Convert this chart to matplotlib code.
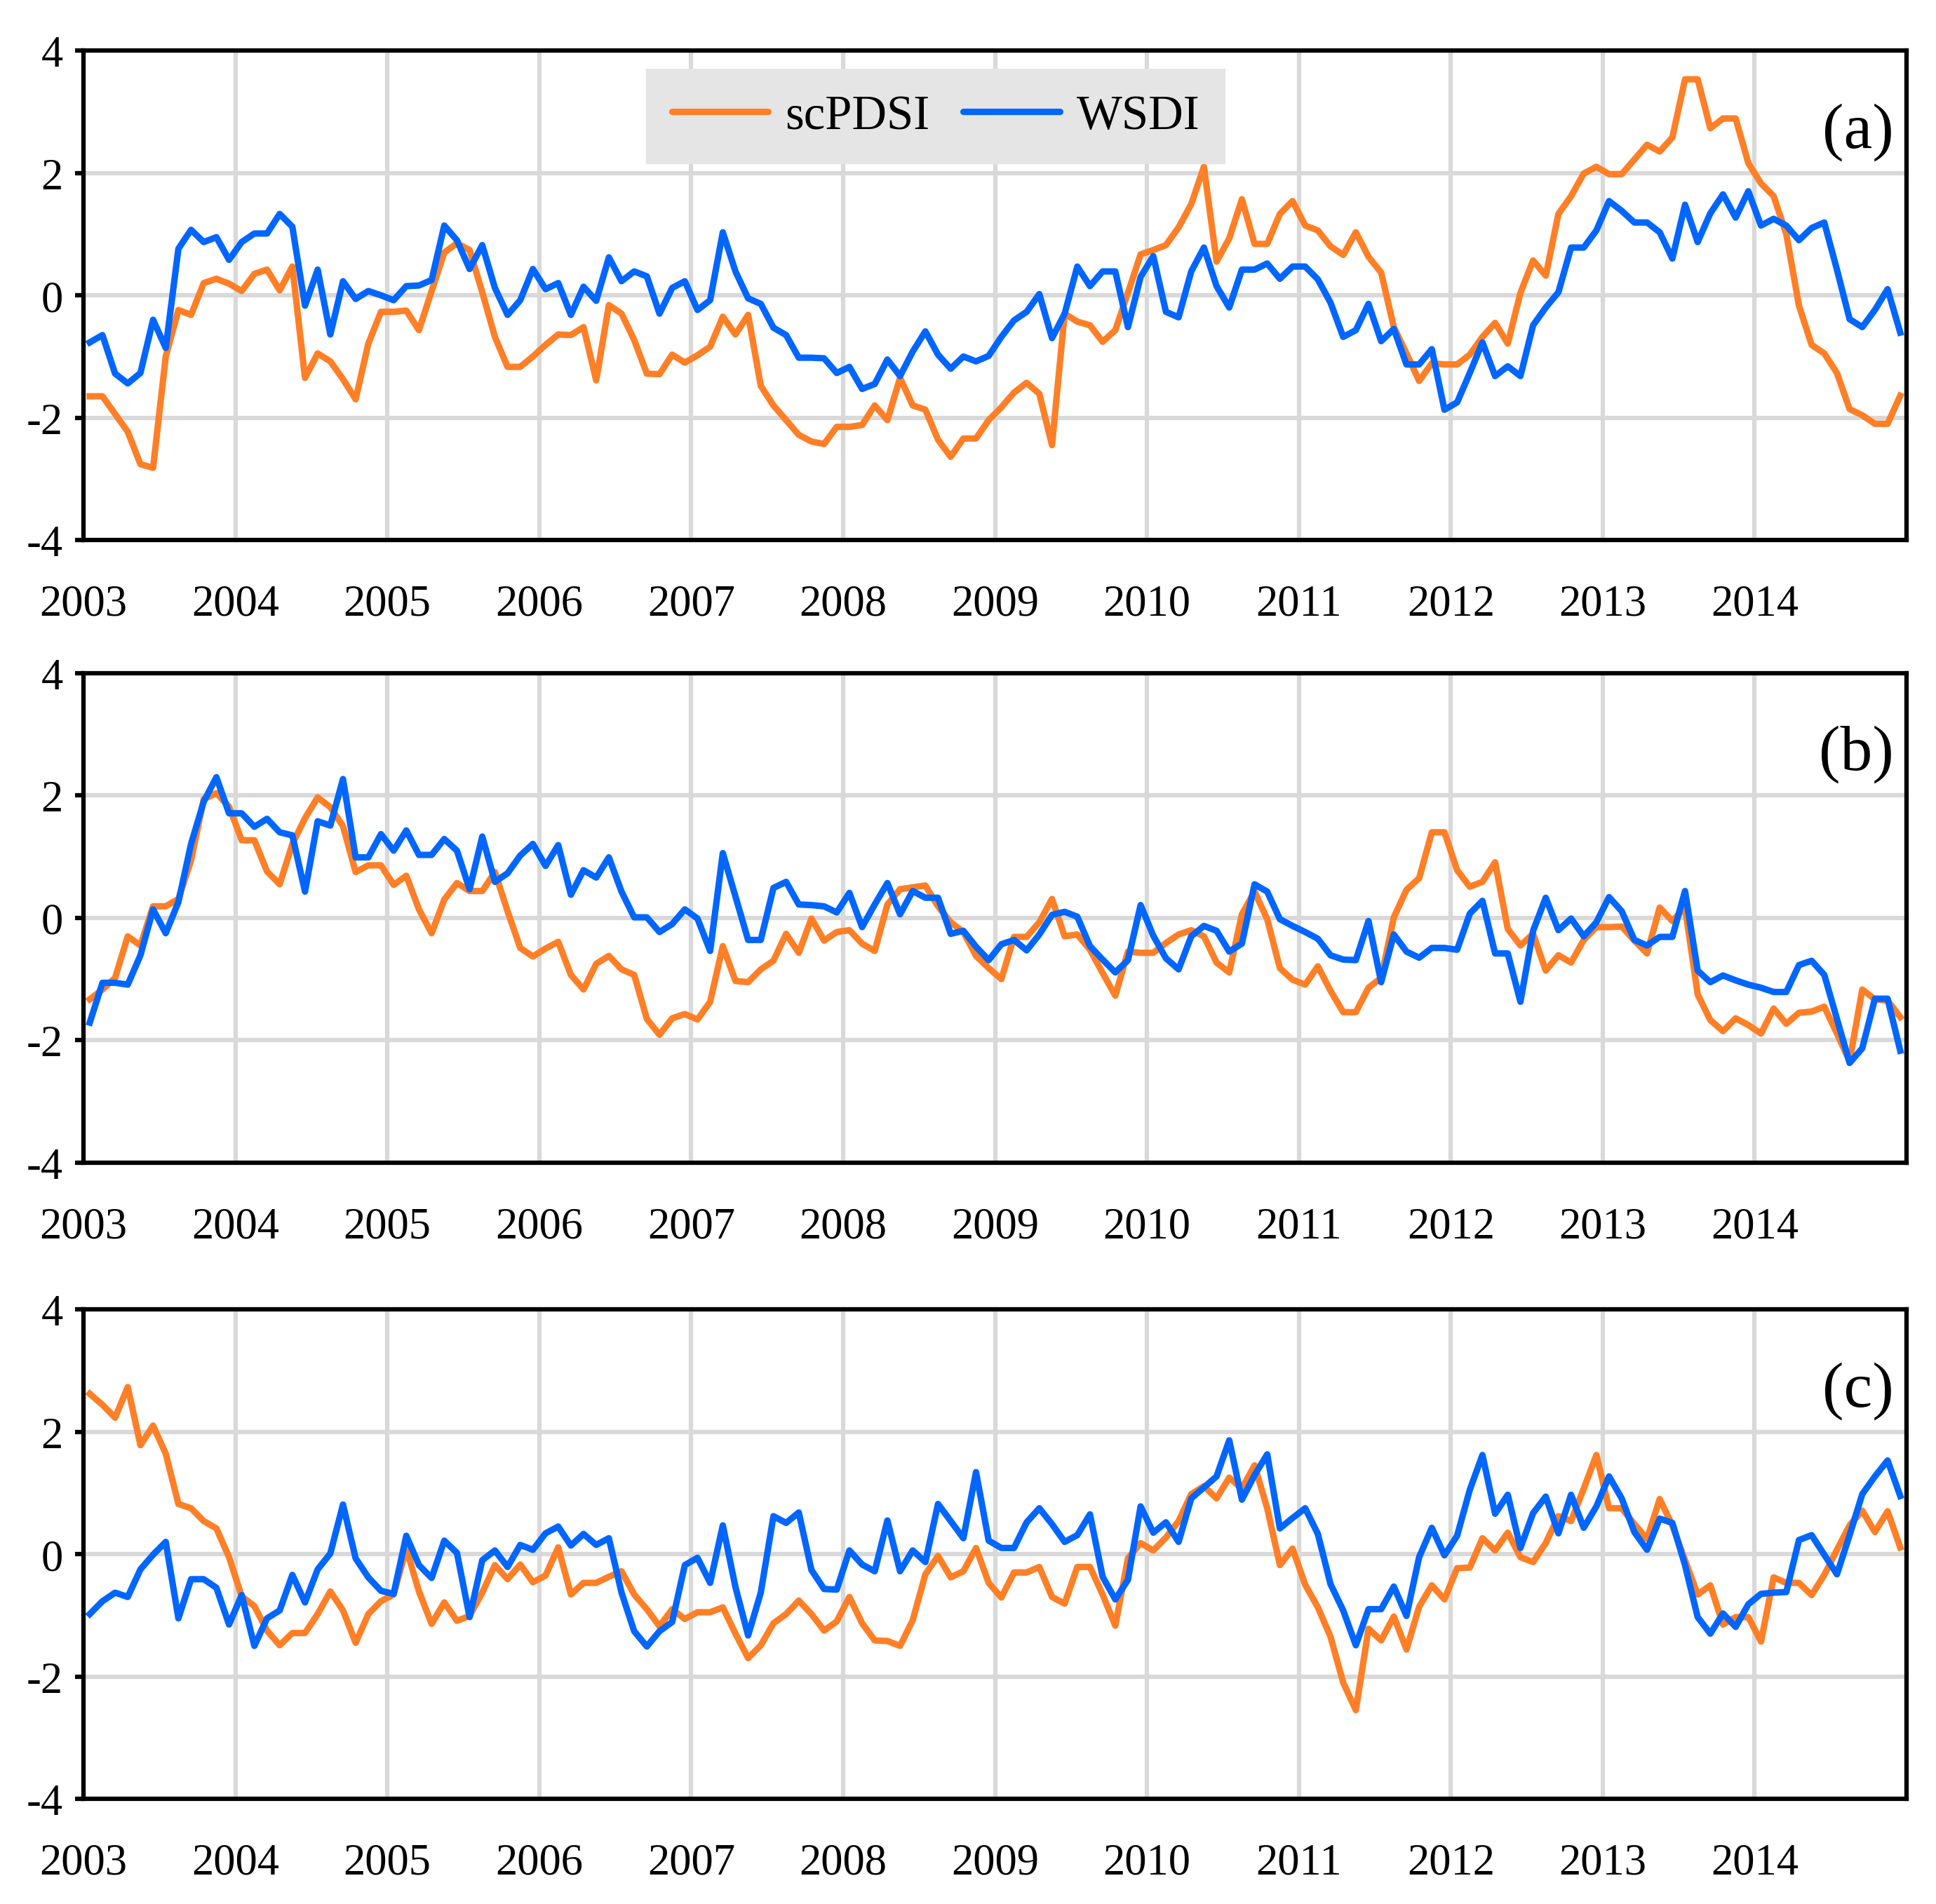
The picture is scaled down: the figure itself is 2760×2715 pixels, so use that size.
import numpy as np
import matplotlib
matplotlib.use("Agg")
import matplotlib.pyplot as plt

plt.rcParams['font.family'] = ['Liberation Serif', 'DejaVu Serif']
plt.rcParams['axes.unicode_minus'] = False

years = list(range(2003, 2015))
year_labels = [str(y) for y in years]
yticks = [-4, -2, 0, 2, 4]
series_names = ["scPDSI", "WSDI"]
panel_labels = ["(a)", "(b)", "(c)"]

a_scpdsi = [-1.65, -1.65, -1.94, -2.23, -2.76, -2.82, -1.00, -0.24, -0.32, 0.20, 0.27, 0.19,
            0.07, 0.35, 0.42, 0.08, 0.47, -1.35, -0.95, -1.08, -1.37, -1.70, -0.79, -0.27,
            -0.27, -0.25, -0.57, 0.07, 0.70, 0.85, 0.74, 0.05, -0.68, -1.17, -1.17, -1.00,
            -0.81, -0.64, -0.65, -0.52, -1.39, -0.16, -0.30, -0.73, -1.28, -1.29, -0.97, -1.10,
            -0.98, -0.84, -0.35, -0.64, -0.32, -1.48, -1.80, -2.04, -2.28, -2.39, -2.43, -2.15,
            -2.15, -2.12, -1.80, -2.04, -1.35, -1.80, -1.87, -2.36, -2.64, -2.34, -2.34, -2.04,
            -1.83, -1.59, -1.43, -1.61, -2.45, -0.30, -0.43, -0.49, -0.76, -0.57, 0.04, 0.67,
            0.74, 0.82, 1.11, 1.49, 2.10, 0.55, 0.93, 1.57, 0.84, 0.84, 1.33, 1.54,
            1.14, 1.06, 0.80, 0.66, 1.03, 0.63, 0.37, -0.52, -0.95, -1.40, -1.11, -1.13,
            -1.13, -0.97, -0.68, -0.45, -0.79, 0.04, 0.57, 0.32, 1.33, 1.62, 1.99, 2.10,
            1.98, 1.98, 2.22, 2.46, 2.35, 2.58, 3.53, 3.53, 2.73, 2.89, 2.89, 2.16,
            1.83, 1.62, 1.00, -0.17, -0.81, -0.95, -1.27, -1.86, -1.96, -2.10, -2.10, -1.64]

a_wsdi = [-0.77, -0.65, -1.28, -1.44, -1.27, -0.40, -0.86, 0.76, 1.07, 0.87, 0.95, 0.58,
          0.87, 1.01, 1.01, 1.33, 1.12, -0.17, 0.42, -0.64, 0.23, -0.06, 0.07, 0.00,
          -0.08, 0.15, 0.16, 0.25, 1.14, 0.90, 0.43, 0.82, 0.12, -0.32, -0.08, 0.43,
          0.10, 0.20, -0.32, 0.14, -0.09, 0.62, 0.23, 0.39, 0.31, -0.30, 0.12, 0.23,
          -0.24, -0.08, 1.03, 0.39, -0.05, -0.14, -0.53, -0.65, -1.02, -1.02, -1.03, -1.27,
          -1.17, -1.53, -1.45, -1.05, -1.32, -0.92, -0.59, -0.97, -1.20, -1.00, -1.08, -0.99,
          -0.68, -0.41, -0.27, 0.02, -0.70, -0.30, 0.47, 0.15, 0.39, 0.39, -0.52, 0.30,
          0.64, -0.27, -0.36, 0.39, 0.78, 0.15, -0.20, 0.42, 0.42, 0.52, 0.27, 0.47,
          0.47, 0.26, -0.12, -0.68, -0.57, -0.14, -0.75, -0.55, -1.13, -1.13, -0.88, -1.87,
          -1.75, -1.27, -0.77, -1.32, -1.16, -1.32, -0.49, -0.20, 0.05, 0.78, 0.78, 1.06,
          1.54, 1.38, 1.19, 1.19, 1.03, 0.60, 1.48, 0.87, 1.34, 1.65, 1.27, 1.70,
          1.14, 1.25, 1.14, 0.90, 1.10, 1.19, 0.42, -0.39, -0.52, -0.24, 0.10, -0.61]

b_scpdsi = [-1.33, -1.17, -0.98, -0.30, -0.45, 0.19, 0.19, 0.31, 0.94, 1.94, 2.04, 1.82,
            1.27, 1.27, 0.76, 0.55, 1.21, 1.63, 1.97, 1.81, 1.50, 0.75, 0.86, 0.86,
            0.54, 0.69, 0.14, -0.25, 0.30, 0.57, 0.44, 0.44, 0.75, 0.11, -0.49, -0.63,
            -0.50, -0.39, -0.93, -1.17, -0.75, -0.62, -0.84, -0.93, -1.65, -1.91, -1.64, -1.57,
            -1.66, -1.37, -0.46, -1.03, -1.05, -0.84, -0.70, -0.26, -0.57, -0.01, -0.37, -0.23,
            -0.20, -0.42, -0.54, 0.22, 0.47, 0.50, 0.53, 0.19, -0.07, -0.23, -0.62, -0.82,
            -1.00, -0.31, -0.31, -0.07, 0.31, -0.30, -0.27, -0.52, -0.90, -1.27, -0.55, -0.57,
            -0.57, -0.41, -0.27, -0.20, -0.30, -0.73, -0.89, 0.06, 0.43, -0.02, -0.82, -1.01,
            -1.09, -0.79, -1.19, -1.54, -1.54, -1.14, -0.98, 0.01, 0.46, 0.65, 1.40, 1.40,
            0.78, 0.51, 0.59, 0.91, -0.18, -0.45, -0.26, -0.86, -0.61, -0.73, -0.36, -0.15,
            -0.15, -0.14, -0.37, -0.58, 0.17, -0.05, 0.17, -1.25, -1.67, -1.85, -1.64, -1.75,
            -1.89, -1.48, -1.73, -1.55, -1.53, -1.45, -1.89, -2.34, -1.17, -1.33, -1.35, -1.62]

b_wsdi = [-1.71, -1.06, -1.06, -1.09, -0.61, 0.14, -0.25, 0.26, 1.21, 1.90, 2.30, 1.71,
          1.71, 1.49, 1.62, 1.40, 1.35, 0.43, 1.58, 1.51, 2.27, 0.99, 0.99, 1.37,
          1.10, 1.43, 1.03, 1.03, 1.29, 1.10, 0.47, 1.33, 0.59, 0.73, 1.02, 1.21,
          0.85, 1.19, 0.38, 0.78, 0.66, 0.99, 0.43, 0.01, 0.01, -0.23, -0.10, 0.14,
          -0.01, -0.54, 1.06, 0.35, -0.36, -0.36, 0.49, 0.59, 0.22, 0.21, 0.19, 0.09,
          0.41, -0.15, 0.22, 0.57, 0.06, 0.44, 0.33, 0.33, -0.26, -0.21, -0.47, -0.69,
          -0.43, -0.36, -0.53, -0.27, 0.05, 0.10, 0.02, -0.46, -0.68, -0.89, -0.69, 0.21,
          -0.29, -0.66, -0.84, -0.30, -0.13, -0.21, -0.55, -0.42, 0.55, 0.43, -0.02, -0.13,
          -0.23, -0.34, -0.61, -0.68, -0.69, -0.05, -1.05, -0.27, -0.55, -0.65, -0.49, -0.49,
          -0.52, 0.07, 0.28, -0.58, -0.58, -1.37, -0.21, 0.33, -0.20, -0.01, -0.30, -0.07,
          0.34, 0.11, -0.36, -0.45, -0.31, -0.31, 0.44, -0.86, -1.05, -0.94, -1.02, -1.09,
          -1.14, -1.21, -1.21, -0.77, -0.70, -0.93, -1.65, -2.37, -2.13, -1.32, -1.32, -2.17]

c_scpdsi = [2.62, 2.44, 2.23, 2.73, 1.78, 2.10, 1.64, 0.82, 0.75, 0.54, 0.42, -0.05,
            -0.69, -0.85, -1.25, -1.49, -1.29, -1.29, -0.98, -0.61, -0.92, -1.45, -0.98, -0.77,
            -0.66, 0.09, -0.61, -1.14, -0.79, -1.09, -1.01, -0.63, -0.18, -0.41, -0.17, -0.46,
            -0.35, 0.11, -0.66, -0.47, -0.47, -0.37, -0.28, -0.66, -0.90, -1.18, -0.90, -1.06,
            -0.95, -0.95, -0.87, -1.30, -1.70, -1.49, -1.13, -0.98, -0.76, -0.98, -1.25, -1.10,
            -0.70, -1.13, -1.41, -1.42, -1.50, -1.08, -0.33, -0.03, -0.38, -0.28, 0.10, -0.47,
            -0.71, -0.30, -0.30, -0.21, -0.70, -0.81, -0.21, -0.21, -0.66, -1.17, -0.07, 0.18,
            0.06, 0.27, 0.54, 0.98, 1.11, 0.91, 1.25, 1.07, 1.45, 0.75, -0.18, 0.09,
            -0.50, -0.87, -1.35, -2.10, -2.55, -1.22, -1.41, -1.02, -1.56, -0.86, -0.51, -0.74,
            -0.23, -0.22, 0.26, 0.06, 0.35, -0.05, -0.13, 0.18, 0.62, 0.54, 1.07, 1.62,
            0.75, 0.75, 0.49, 0.25, 0.90, 0.47, -0.10, -0.66, -0.51, -1.15, -1.03, -1.03,
            -1.43, -0.38, -0.47, -0.47, -0.67, -0.34, 0.07, 0.47, 0.71, 0.36, 0.70, 0.11]

c_wsdi = [-0.98, -0.77, -0.63, -0.70, -0.25, -0.01, 0.20, -1.05, -0.41, -0.41, -0.55, -1.15,
          -0.67, -1.50, -1.05, -0.92, -0.34, -0.79, -0.25, 0.01, 0.81, -0.07, -0.38, -0.60,
          -0.65, 0.30, -0.18, -0.39, 0.22, 0.02, -1.03, -0.10, 0.06, -0.21, 0.15, 0.07,
          0.34, 0.45, 0.14, 0.33, 0.15, 0.26, -0.63, -1.26, -1.51, -1.26, -1.11, -0.18,
          -0.06, -0.47, 0.47, -0.54, -1.33, -0.63, 0.62, 0.51, 0.68, -0.26, -0.57, -0.58,
          0.06, -0.17, -0.28, 0.55, -0.28, 0.06, -0.13, 0.82, 0.54, 0.26, 1.34, 0.22,
          0.10, 0.10, 0.52, 0.75, 0.49, 0.20, 0.31, 0.65, -0.37, -0.74, -0.42, 0.78,
          0.35, 0.52, 0.20, 0.91, 1.09, 1.27, 1.86, 0.89, 1.29, 1.63, 0.42, 0.59,
          0.75, 0.33, -0.49, -0.92, -1.49, -0.90, -0.90, -0.53, -1.01, -0.05, 0.43, -0.02,
          0.30, 1.05, 1.62, 0.66, 0.97, 0.10, 0.67, 0.94, 0.34, 0.97, 0.43, 0.78,
          1.27, 0.91, 0.36, 0.07, 0.58, 0.51, -0.18, -1.03, -1.30, -0.97, -1.19, -0.82,
          -0.65, -0.63, -0.62, 0.23, 0.31, -0.01, -0.33, 0.31, 0.98, 1.27, 1.53, 0.95]

panels = [(a_scpdsi, a_wsdi), (b_scpdsi, b_wsdi), (c_scpdsi, c_wsdi)]

# monthly time axis (mid-month positions in decimal years)
n = len(a_scpdsi)
t = years[0] + (np.arange(n) + 0.5) / 12.0

ORANGE = '#ff7f27'
BLUE = '#0066ff'

fig = plt.figure(figsize=(9.2, 9.0533), dpi=300)
left, width, height = 0.0431, 0.9417, 0.2570
bottoms = [0.7161, 0.3892, 0.0552]

for k, (sc, ws) in enumerate(panels):
    ax = fig.add_axes([left, bottoms[k], width, height])
    l1, = ax.plot(t, sc, color=ORANGE, lw=2.2, label=series_names[0], zorder=3)
    l2, = ax.plot(t, ws, color=BLUE, lw=2.2, label=series_names[1], zorder=4)
    ax.set_xlim(years[0], years[-1] + 1)
    ax.set_ylim(-4, 4)
    ax.set_xticks(years)
    ax.set_xticklabels(year_labels)
    ax.set_yticks(yticks)
    ax.set_yticklabels([str(v) for v in yticks])
    ax.grid(True, color='#d9d9d9', linewidth=1.5)
    ax.set_axisbelow(True)
    for sp in ax.spines.values():
        sp.set_linewidth(1.5)
        sp.set_color('black')
        sp.set_zorder(5)
    ax.tick_params(axis='x', length=0, pad=15, labelsize=15)
    ax.tick_params(axis='y', length=3, width=1.5, pad=4, labelsize=15, direction='out')
    ax.text(0.993, 0.835, panel_labels[k], transform=ax.transAxes,
            ha='right', va='center', fontsize=22)
    if k == 0:
        leg = ax.legend(handles=[l1, l2], loc='center', bbox_to_anchor=(0.4675, 0.865),
                        ncol=2, fontsize=16.5, frameon=True, fancybox=False,
                        facecolor='#e5e5e5', edgecolor='#e5e5e5', framealpha=1.0,
                        handlelength=2.0, columnspacing=0.7, handletextpad=0.35,
                        borderpad=0.5, borderaxespad=0)
        leg.set_zorder(6)
        for h in leg.get_lines():
            h.set_solid_capstyle('round')

fig.savefig('out.png', dpi=300)
